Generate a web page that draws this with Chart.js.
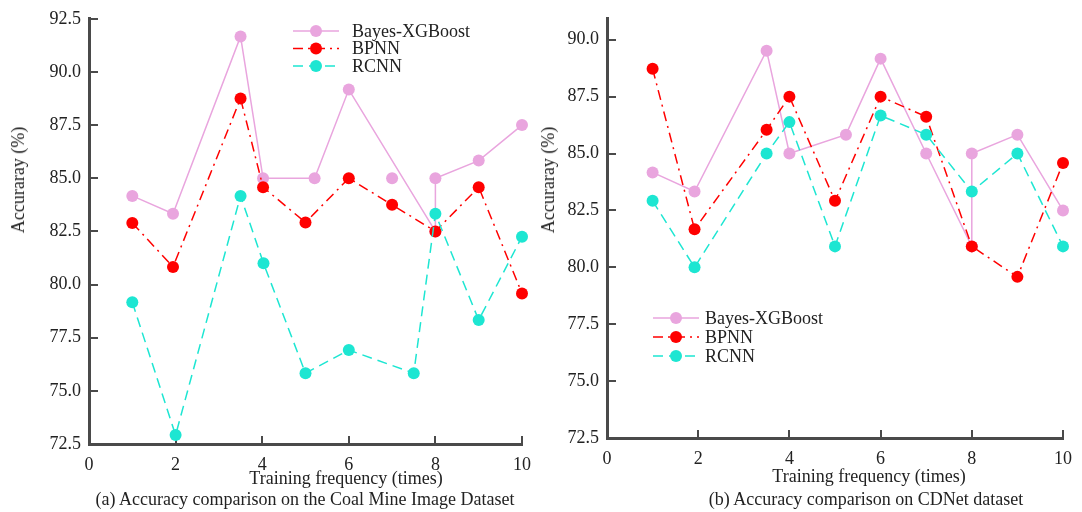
<!DOCTYPE html>
<html>
<head>
<meta charset="utf-8">
<script src="https://cdn.jsdelivr.net/npm/chart.js@4.4.1/dist/chart.umd.min.js"></script>
<style>
  body { margin: 0; background: #fff; }
  #painel { position: relative; width: 1082px; height: 512px; font-family: "Liberation Serif", serif; color: #222; }
  #painel canvas { position: absolute; top: 0; }
  .texto { position: absolute; font-size: 18px; line-height: 18px; white-space: nowrap; transform: translateX(-50%); }
  .eixoY { position: absolute; font-size: 18px; line-height: 18px; white-space: nowrap; transform: translate(-50%, -50%) rotate(-90deg); }
</style>
</head>
<body>
<div id="painel">
  <canvas id="graficoA" width="541" height="512" style="left:0px"></canvas>
  <canvas id="graficoB" width="541" height="512" style="left:541px"></canvas>
  <div class="eixoY" style="left:18px; top:180px">Accuraray (%)</div>
  <div class="eixoY" style="left:548px; top:180px">Accuraray (%)</div>
  <div class="texto" style="left:346px; top:469px">Training frequency (times)</div>
  <div class="texto" style="left:305px; top:490px">(a) Accuracy comparison on the Coal Mine Image Dataset</div>
  <div class="texto" style="left:869px; top:467px">Training frequency (times)</div>
  <div class="texto" style="left:866px; top:490px">(b) Accuracy comparison on CDNet dataset</div>
</div>
<script>
var nomesSeries = ["Bayes-XGBoost", "BPNN", "RCNN"];

// (a) Coal Mine Image Dataset
var bayesAX = [1, 1.94, 3.5, 4.02, 5.21, 6, 8, 8, 9, 10];
var bayesAY = [84.17, 83.33, 91.67, 85.0, 85.0, 89.17, 82.5, 85.0, 85.83, 87.5];
var bayesSoltoAX = [7];
var bayesSoltoAY = [85.0];
var bpnnAX = [1, 1.94, 3.5, 4.02, 5, 6, 7, 8, 9, 10];
var bpnnAY = [82.9, 80.83, 88.75, 84.58, 82.92, 85.0, 83.75, 82.5, 84.58, 79.58];
var rcnnAX = [1, 2, 3.5, 4.03, 5, 6, 7.5, 8, 9, 10];
var rcnnAY = [79.17, 72.92, 84.17, 81.0, 75.83, 76.92, 75.83, 83.33, 78.33, 82.25];

// (b) CDNet dataset
var bayesBX = [1, 1.92, 3.5, 4, 5.24, 6, 7, 8, 8, 9, 10];
var bayesBY = [84.17, 83.33, 89.52, 85.0, 85.83, 89.17, 85.0, 80.92, 85.0, 85.83, 82.5];
var bpnnBX = [1, 1.92, 3.5, 4, 5, 6, 7, 8, 9, 10];
var bpnnBY = [88.72, 81.67, 86.04, 87.5, 82.92, 87.5, 86.62, 80.92, 79.58, 84.58];
var rcnnBX = [1, 1.92, 3.5, 4, 5, 6, 7, 8, 9, 10];
var rcnnBY = [82.92, 80.0, 85.0, 86.38, 80.92, 86.67, 85.83, 83.33, 85.0, 80.92];

var corBayes = "#e9a5de";
var corBpnn = "#ff0000";
var corRcnn = "#1de6d2";
var corEixo = "#4a4a4a";

Chart.defaults.font.family = "'Liberation Serif', serif";
Chart.defaults.font.size = 18;
Chart.defaults.color = "#222";

function juntarPontos(xs, ys) {
  var pontos = [];
  for (var i = 0; i < xs.length; i++) {
    pontos.push({ x: xs[i], y: ys[i] });
  }
  return pontos;
}

function criarSerie(nome, xs, ys, cor, traco, ordem) {
  return {
    label: nome,
    data: juntarPontos(xs, ys),
    showLine: nome !== "",
    borderColor: cor,
    backgroundColor: cor,
    borderWidth: 1.5,
    borderDash: traco,
    pointRadius: 6,
    pointHoverRadius: 6,
    pointBorderWidth: 0,
    pointBackgroundColor: cor,
    order: ordem,
    clip: false,
  };
}

// ticks desenhados para dentro da area, como no original
var marcasInternas = {
  id: "marcasInternas",
  beforeDatasetsDraw: function (chart) {
    var ctx = chart.ctx;
    var area = chart.chartArea;
    var sx = chart.scales.x;
    var sy = chart.scales.y;
    ctx.save();
    ctx.strokeStyle = corEixo;
    ctx.lineWidth = 2;
    ctx.beginPath();
    sy.ticks.forEach(function (t) {
      var py = Math.round(sy.getPixelForValue(t.value));
      ctx.moveTo(area.left, py);
      ctx.lineTo(area.left + 9, py);
    });
    sx.ticks.forEach(function (t) {
      var px = Math.round(sx.getPixelForValue(t.value));
      ctx.moveTo(px, area.bottom);
      ctx.lineTo(px, area.bottom - 8);
    });
    ctx.stroke();
    ctx.restore();
  },
};

// legenda livre, posicionada dentro da area do grafico
var legendaLivre = {
  id: "legendaLivre",
  afterDatasetsDraw: function (chart, args, opts) {
    var ctx = chart.ctx;
    var series = chart.data.datasets.filter(function (d) {
      return d.label !== "";
    });
    ctx.save();
    for (var i = 0; i < series.length; i++) {
      var d = series[i];
      var y = opts.y + i * opts.passo;
      ctx.strokeStyle = d.borderColor;
      ctx.lineWidth = 1.5;
      ctx.setLineDash(d.borderDash);
      ctx.beginPath();
      ctx.moveTo(opts.x1, y);
      ctx.lineTo(opts.x2, y);
      ctx.stroke();
      ctx.setLineDash([]);
      ctx.fillStyle = d.borderColor;
      ctx.beginPath();
      ctx.arc((opts.x1 + opts.x2) / 2, y, 6, 0, Math.PI * 2);
      ctx.fill();
      ctx.fillStyle = "#222";
      ctx.font = "18px 'Liberation Serif', serif";
      ctx.textBaseline = "middle";
      ctx.fillText(d.label, opts.xTexto, y + 1);
    }
    ctx.restore();
  },
};

function plotarGrafico(canvas, series, yMax, larguraY, padding, legenda) {
  new Chart(canvas, {
    type: "scatter",
    data: { datasets: series },
    options: {
      responsive: false,
      animation: false,
      layout: { padding: padding },
      scales: {
        x: {
          type: "linear",
          min: 0,
          max: 10,
          grid: { display: false, drawTicks: false },
          border: { display: true, color: corEixo, width: 3 },
          ticks: { stepSize: 2, padding: 10, color: "#222" },
          afterFit: function (s) {
            s.height = 30;
          },
        },
        y: {
          type: "linear",
          min: 72.5,
          max: yMax,
          grid: { display: false, drawTicks: false },
          border: { display: true, color: corEixo, width: 3 },
          ticks: {
            stepSize: 2.5,
            includeBounds: false,
            padding: 8,
            color: "#222",
            callback: function (v) {
              return v.toFixed(1);
            },
          },
          afterFit: function (s) {
            s.width = larguraY;
          },
        },
      },
      plugins: {
        legend: { display: false },
        tooltip: { enabled: false },
        legendaLivre: legenda,
      },
    },
    plugins: [marcasInternas, legendaLivre],
  });
}

plotarGrafico(
  graficoA,
  [
    criarSerie(nomesSeries[0], bayesAX, bayesAY, corBayes, [], 3),
    criarSerie(nomesSeries[1], bpnnAX, bpnnAY, corBpnn, [10, 5, 2, 5], 2),
    criarSerie(nomesSeries[2], rcnnAX, rcnnAY, corRcnn, [10, 6], 1),
    criarSerie("", bayesSoltoAX, bayesSoltoAY, corBayes, [], 3),
  ],
  92.5,
  89,
  { left: 0, right: 18, top: 17, bottom: 38 },
  { x1: 293, x2: 339, xTexto: 352, y: 31, passo: 17.5 }
);

plotarGrafico(
  graficoB,
  [
    criarSerie(nomesSeries[0], bayesBX, bayesBY, corBayes, [], 3),
    criarSerie(nomesSeries[1], bpnnBX, bpnnBY, corBpnn, [10, 5, 2, 5], 2),
    criarSerie(nomesSeries[2], rcnnBX, rcnnBY, corRcnn, [10, 6], 1),
  ],
  90.92,
  66,
  { left: 0, right: 13, top: 17, bottom: 44 },
  { x1: 112, x2: 158, xTexto: 164, y: 318, passo: 19 }
);
</script>
</body>
</html>
